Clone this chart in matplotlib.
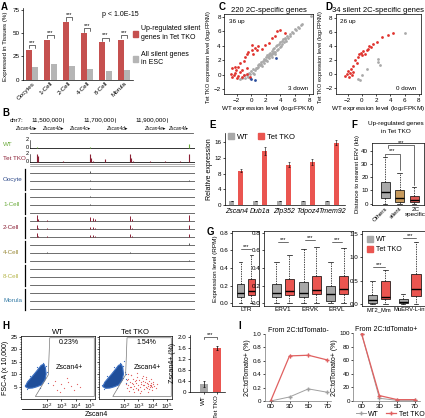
import numpy as np
import matplotlib
matplotlib.use("Agg")
import matplotlib.pyplot as plt
from matplotlib.patches import Polygon, Rectangle

plt.rcParams['font.family'] = ['Liberation Sans', 'DejaVu Sans']
plt.rcParams['font.size'] = 4.5
plt.rcParams['axes.linewidth'] = 0.5
plt.rcParams['xtick.major.width'] = 0.5
plt.rcParams['ytick.major.width'] = 0.5
plt.rcParams['xtick.minor.width'] = 0.4
plt.rcParams['ytick.minor.width'] = 0.4
plt.rcParams['xtick.major.size'] = 1.5
plt.rcParams['ytick.major.size'] = 1.5
plt.rcParams['xtick.minor.size'] = 1.0
plt.rcParams['ytick.minor.size'] = 1.0
plt.rcParams['xtick.major.pad'] = 1
plt.rcParams['ytick.major.pad'] = 1
plt.rcParams['axes.labelpad'] = 1
plt.rcParams['xtick.labelsize'] = 4.5
plt.rcParams['ytick.labelsize'] = 4.5

# ---------------- data ----------------
# A
stages = ["Oocytes", "1-Cell", "2-Cell", "4-Cell", "8-Cell", "Morula"]
up_silent = [32, 43, 62, 50, 40, 43]
all_silent = [13, 17, 15, 11, 9, 10]

# B (positions in kb on chr7)
wt_peak_pos = [11400, 11604, 11985]
wt_peak_h = [0.3, 0.3, 0.9]
tko_peak_pos = [11400, 11405, 11500, 11604, 11609, 11615, 11662, 11758, 11762, 11768, 11835, 11892, 11950, 11985]
tko_peak_h = [2.0, 1.6, 0.3, 2.0, 1.1, 0.3, 0.7, 2.0, 1.0, 0.3, 0.3, 0.3, 0.3, 2.0]
gene_names = ["Zscan4a", "Zscan4b", "Zscan4c", "Zscan4d", "Zscan4e", "Zscan4f"]
gene_label_pos = [11357, 11461, 11565, 11707, 11854, 11942]
embryo_groups = ["Oocyte", "1-Cell", "2-Cell", "4-Cell", "8-Cell", "Morula"]
embryo_peak_pos = [11400, 11405, 11440, 11604, 11615, 11625, 11758, 11765, 11985]
embryo_peak_h = {
    "Oocyte": [[0, 0, 0, 0.3, 0, 0, 0, 0, 0], [0, 0, 0, 0.2, 0, 0, 0, 0, 0.1], [0, 0, 0, 0.2, 0, 0, 0, 0, 0]],
    "1-Cell": [[0, 0, 0, 0.1, 0, 0, 0, 0, 0], [0, 0, 0, 0.1, 0, 0, 0, 0, 0], [0, 0, 0, 0, 0, 0, 0, 0, 0]],
    "2-Cell": [[1.2, 0.4, 0.2, 0.8, 0.5, 0.3, 0.9, 0.4, 1.2], [0.8, 0.2, 0.1, 0.4, 0.3, 0.2, 0.8, 0.2, 0.7], [0.7, 0.2, 0.1, 0.3, 0.3, 0.1, 0.5, 0.2, 0.5]],
    "4-Cell": [[0, 0, 0, 0, 0, 0, 0, 0, 0.3], [0, 0, 0.2, 0, 0, 0, 0.1, 0, 0], [0, 0, 0, 0, 0, 0, 0, 0, 0.2]],
    "8-Cell": [[0, 0, 0, 0, 0, 0, 0, 0, 0], [0, 0, 0, 0, 0, 0, 0, 0, 0], [0, 0, 0, 0, 0, 0, 0, 0, 0]],
    "Morula": [[0, 0, 0, 0, 0, 0, 0, 0, 0], [0, 0, 0, 0, 0, 0, 0, 0, 0], [0, 0, 0, 0, 0, 0, 0, 0, 0]],
}
embryo_colors = ["#2e4a8a", "#6aaa3a", "#8b2035", "#9a8a3a", "#b5b54a", "#3a7fa8"]

# C
c_up_x = [3.6, 4.6, 3.3, 2.4, 1.9, 1.0, 0.5, 0.8, 0.1, -0.4, -0.6, 0.2, -1.05, -1.5, -2.2, -2.7, -2.1, -1.3,
          -0.6, -2.75, -2.4, -1.75, -1.05, -0.6, -2.65, -1.95, -1.3, -0.15, -2.2, -1.5, 1.5, 2.8, 4.0, 0.1, -0.9, -1.8]
c_up_y = [6.0, 5.7, 5.4, 4.4, 4.1, 3.9, 3.7, 3.4, 3.4, 3.2, 2.9, 2.8, 1.9, 1.6, 1.1, 0.9, 0.6, 0.6,
          0.9, 0.1, -0.05, -0.2, -0.05, 0.1, -0.3, -0.5, -0.35, -0.3, 0.3, 0.4, 3.6, 5.0, 6.2, 4.1, 2.5, 1.1]
c_down_x = [3.45, 0.0, 0.55]
c_down_y = [2.25, -0.65, -0.75]
c_ns_x = [-1.5, -1.2, -1.0, -0.8, -0.6, -0.4, -0.3, -0.1, 0.0, 0.2, 0.3, 0.5, 0.6, 0.8, 0.9, 1.0, 1.2, 1.3,
          1.4, 1.6, 1.7, 1.8, 1.9, 2.0, 2.1, 2.2, 2.3, 2.4, 2.5, 2.6, 2.7, 2.8, 2.9, 3.0, 3.1, 3.2, 3.3, 3.4,
          3.5, 3.6, 3.7, 3.8, 3.9, 4.0, 4.1, 4.2, 4.3, 4.4, 4.5, 4.7, 4.8, 5.0, 5.1, 5.3, 5.4, 5.6, 5.8, 6.0,
          6.2, 6.4, 6.6, 6.8, 7.0, 8.3, 2.2, 2.8, 3.3, 1.5, 0.4, -0.2, 3.0, 2.5, 1.1, 4.6]
c_ns_y = [-0.6, -0.4, -0.1, -0.5, 0.0, -0.3, 0.3, 0.1, 0.5, 0.3, 0.8, 0.6, 1.0, 0.9, 1.3, 1.1, 1.4, 1.8,
          1.5, 1.9, 1.6, 2.2, 2.0, 2.5, 2.1, 2.7, 2.4, 2.9, 2.3, 3.0, 2.7, 3.3, 2.8, 3.5, 3.1, 3.7, 3.2, 3.9,
          3.4, 4.1, 3.6, 4.3, 3.8, 4.5, 4.0, 4.7, 4.2, 4.9, 4.5, 5.1, 4.7, 5.4, 5.0, 5.6, 5.3, 5.9, 5.7, 6.3,
          6.1, 6.6, 6.5, 6.9, 7.0, 8.1, 1.9, 2.5, 2.9, 1.2, 0.1, -0.5, 3.0, 2.6, 1.5, 4.9]

# D
d_up_x = [4.4, 3.6, 2.8, 2.05, 1.6, 1.25, 0.9, 0.65, 0.2, -0.15, 0.4, -0.4, -0.6, -1.0, -0.75, -1.2, -1.55,
          -2.0, -1.7, -2.15, -1.45, -1.8, -2.4, -1.2, 1.0, 0.05]
d_up_y = [5.9, 5.6, 5.2, 4.6, 4.3, 3.85, 3.6, 3.4, 3.3, 3.0, 2.9, 2.8, 2.4, 1.95, 1.5, 1.2, 0.75,
          0.4, 0.15, -0.05, -0.2, -0.45, -0.25, 0.3, 3.95, 2.65]
d_ns_x = [6.0, 2.2, 2.2, 2.5, 0.65, -0.05, -0.5, -0.25]
d_ns_y = [5.8, 2.2, 1.7, 1.25, 0.75, -0.2, -0.7, -0.8]

# E
e_genes = ["Zscan4", "Dub1a", "Zfp352", "Tdpoz4", "Tmem92"]
e_wt = [1.0, 1.0, 1.0, 1.0, 1.0]
e_wt_err = [0.1, 0.1, 0.1, 0.1, 0.1]
e_tko = [8.8, 13.8, 10.3, 11.0, 15.9]
e_tko_err = [0.4, 0.9, 0.6, 0.8, 0.6]

# F
f_groups = ["Others", "silent", "2C\nspecific"]
f_q1 = [4.0, 1.5, 1.5]
f_med = [8.5, 4.5, 3.0]
f_q3 = [16.5, 10.0, 5.7]
f_lo = [0.0, 0.0, 0.0]
f_hi = [35.5, 23.0, 12.3]

# G
g_classes = ["LTR", "ERV1", "ERVK", "ERVL", "MT2_Mm", "MuERV-L-int"]
g_wt_q1 = [0.07, 0.07, 0.07, 0.03, 0.03, 0.02]
g_wt_med = [0.12, 0.12, 0.12, 0.11, 0.08, 0.05]
g_wt_q3 = [0.22, 0.22, 0.24, 0.20, 0.20, 0.10]
g_wt_hi = [0.47, 0.47, 0.62, 0.47, 0.50, 0.22]
g_tko_q1 = [0.09, 0.09, 0.10, 0.10, 0.10, 0.18]
g_tko_med = [0.14, 0.14, 0.15, 0.16, 0.15, 0.32]
g_tko_q3 = [0.28, 0.28, 0.31, 0.31, 0.50, 0.65]
g_tko_hi = [0.55, 0.55, 0.64, 0.63, 0.73, 1.32]

# H
flow_blob_lx = [0.5, 0.7, 1.0, 1.3, 1.6, 1.85, 1.95, 1.9, 1.8, 1.6, 1.4, 1.15, 0.9, 0.65]
flow_blob_y = [5.0, 4.3, 4.4, 4.9, 5.6, 7.5, 10.0, 12.5, 14.0, 13.5, 12.0, 10.2, 8.5, 6.8]
gate_lx = [2.2, 2.1, 1.2, 5.3, 5.3]
gate_y = [24.6, 9.7, 1.0, 1.0, 24.6]
wt_blue_lx = [0.45, 0.6, 1.9, 2.0, 1.7, 1.3, 0.8, 2.05, 1.95, 1.5]
wt_blue_y = [5.6, 4.2, 8.5, 11.0, 14.6, 12.8, 9.2, 6.5, 13.2, 4.4]
wt_red_lx = [2.4, 2.7, 3.0, 3.2, 3.5, 3.7, 3.9, 4.1, 2.9, 3.4, 2.6, 4.3]
wt_red_y = [5.5, 3.8, 6.2, 4.5, 7.0, 5.2, 3.5, 6.0, 2.8, 8.5, 7.2, 4.8]
tko_blue_lx = [0.45, 0.6, 1.9, 2.05, 1.7, 1.3, 0.8, 2.1, 1.95, 1.5, 2.15, 2.0, 1.85, 2.1]
tko_blue_y = [5.6, 4.2, 8.5, 11.0, 14.6, 12.8, 9.2, 6.5, 13.2, 4.4, 8.0, 15.2, 12.0, 10.2]
tko_red_lx = [2.1, 2.2, 2.25, 2.3, 2.35, 2.4, 2.45, 2.5, 2.55, 2.6, 2.65, 2.7, 2.75, 2.8, 2.85, 2.9,
              2.95, 3.0, 3.05, 3.1, 3.15, 3.2, 3.25, 3.3, 3.35, 3.4, 3.45, 3.5, 3.55, 3.6, 3.65, 3.7,
              3.75, 3.8, 3.85, 3.9, 3.95, 4.0, 4.1, 4.2, 2.3, 2.5, 2.7, 2.9, 3.1, 3.3, 3.5, 3.7, 3.9,
              2.4, 2.6, 2.8, 3.0, 3.2, 3.4, 3.6, 3.8, 4.05, 2.2, 3.75, 3.85, 3.6, 3.95, 4.3]
tko_red_y = [6.0, 4.5, 8.2, 5.5, 3.2, 7.0, 9.5, 4.8, 6.4, 3.9, 8.0, 5.2, 7.1, 4.3, 6.6, 9.0,
             3.6, 5.8, 7.6, 4.9, 6.2, 3.4, 8.4, 5.6, 7.3, 4.1, 6.8, 5.0, 7.9, 4.4, 6.0, 5.4,
             7.2, 4.7, 6.5, 5.1, 3.8, 6.1, 5.3, 4.6, 10.2, 9.8, 2.8, 10.5, 2.5, 9.2, 8.8, 3.0, 8.1,
             5.0, 6.0, 7.5, 4.0, 7.0, 5.5, 6.3, 5.8, 6.9, 7.8, 4.2, 5.7, 6.6, 4.8, 5.9]
zscan4_pct = [0.28, 1.60]
zscan4_err = [0.10, 0.07]

# I
i_days = ["0D", "3D", "5D", "7D"]
i1_wt = [0.0, 0.06, 0.18, 0.13]
i1_wt_err = [0.0, 0.01, 0.01, 0.01]
i1_tko = [0.0, 0.67, 0.68, 0.61]
i1_tko_err = [0.0, 0.03, 0.03, 0.01]
i2_wt = [99, 4, 1, 1]
i2_tko = [99, 8, 2, 2]

# ---------------- helpers ----------------
W, H = 425, 418
fig = plt.figure(figsize=(W / 100, H / 100), dpi=100)
fig.patch.set_facecolor("white")


def px_ax(x0, y0, x1, y1):
    return fig.add_axes([x0 / W, 1 - y1 / H, (x1 - x0) / W, (y1 - y0) / H])


def ftext(x, y, s, **kw):
    fig.text(x / W, 1 - y / H, s, **kw)


def strip(ax):
    ax.spines["top"].set_visible(False)
    ax.spines["right"].set_visible(False)


red_a, gray_a = "#c5504f", "#b5b5b5"
red_c, gray_c, blue_c = "#e0332e", "#a9a9a9", "#2a4c9c"
red_e, gray_e = "#ea5550", "#a8a8a8"
tan_f = "#c79a5c"

# panel letters
for lab, x, y in [("A", 1, 7), ("B", 2, 113), ("C", 219, 7), ("D", 325, 7), ("E", 209, 125),
                  ("F", 351, 125), ("G", 207, 232), ("H", 2, 326), ("I", 238, 326)]:
    ftext(x, y, lab, fontsize=7, fontweight="bold", va="center")

# ---------------- A ----------------
axA = px_ax(23, 8, 133, 79.5)
xs = np.arange(len(stages))
axA.bar(xs - 0.17, up_silent, 0.32, color=red_a)
axA.bar(xs + 0.17, all_silent, 0.32, color=gray_a)
axA.set_xlim(-0.5, 5.5)
axA.set_ylim(0, 77)
axA.set_yticks([0, 25, 50, 75])
axA.set_xticks(xs)
axA.set_xticklabels(stages, rotation=45, ha="right", rotation_mode="anchor")
axA.tick_params(axis="x", length=0)
axA.set_ylabel("Expressed in Tissues (%)", fontsize=4.4)
axA.yaxis.set_label_coords(-0.14, 0.47)
strip(axA)
for i in xs:
    y0 = up_silent[i] + 1.5
    y1 = up_silent[i] + 5
    axA.plot([i - 0.17, i - 0.17, i + 0.17, i + 0.17], [y0, y1, y1, y1 - 3], color="k", lw=0.4)
    axA.text(i, y1 + 0.3, "***", ha="center", va="bottom", fontsize=4)
ftext(102, 15, "p < 1.0E-15", fontsize=5, va="center")
fig.patches.append(Rectangle((133 / W, 1 - 37 / H), 5 / W, 6 / H, color=red_a, transform=fig.transFigure))
fig.patches.append(Rectangle((133 / W, 1 - 62 / H), 5 / W, 6 / H, color=gray_a, transform=fig.transFigure))
ftext(141, 33, "Up-regulated silent\ngenes in Tet TKO", fontsize=5, va="center", linespacing=1.3)
ftext(141, 58.5, "All silent genes\nin ESC", fontsize=5, va="center", linespacing=1.3)

# ---------------- B ----------------
axB = px_ax(30, 105, 195, 315)
axB.set_xlim(11373, 12008)
axB.set_ylim(315, 105)
axB.axis("off")
ftext(10, 120, "chr7:", fontsize=4.5, va="center")
for pos, lab in [(11500, "11,500,000"), (11700, "11,700,000"), (11900, "11,900,000")]:
    axB.text(pos - 3, 120, lab, ha="right", va="center", fontsize=4.5)
    axB.plot([pos, pos], [118, 122], color="k", lw=0.4)
for pos, name in zip(gene_label_pos, gene_names):
    axB.text(pos, 129, name + "\u25b8", ha="center", va="center", fontsize=3.5, style="italic", clip_on=False)
axB.plot([11373, 12000], [133, 133], color="#555555", lw=0.6)

# WT / TKO tracks
for base, pos, hts, col, lab, lcol in [(148, wt_peak_pos, wt_peak_h, "#6aaa3a", "WT", "#6aaa3a"),
                                       (162, tko_peak_pos, tko_peak_h, "#8b2035", "Tet TKO", "#8b2035")]:
    axB.plot([11373, 12008], [base, base], color="#333333", lw=0.7)
    axB.vlines(pos, base, [base - h * 4 for h in hts], color=col, lw=0.8)
    axB.plot([11373, 11373], [base - 8, base], color="k", lw=0.4)
    axB.text(11368, base - 8, "2", ha="right", va="center", fontsize=4)
    axB.text(11368, base, "0", ha="right", va="center", fontsize=4)
    ftext(3, base - 4, lab, fontsize=4.5, color=lcol, va="center")

axB.plot([11373, 12008], [164, 164], color="#888888", lw=0.5)
axB.plot([11373, 12008], [166, 166], color="#888888", lw=0.5)

for gi, (grp, gcol) in enumerate(zip(embryo_groups, embryo_colors)):
    top = 168 + gi * 24
    for ri in range(3):
        base = top + 5 + ri * 8
        axB.plot([11373, 12008], [base, base], color="#555555", lw=0.6)
        hts = embryo_peak_h[grp][ri]
        pcol = "#8b2035" if grp == "2-Cell" else "#555555"
        axB.vlines(embryo_peak_pos, base, [base - h * 5 for h in hts], color=pcol, lw=0.7)
    fig.lines.append(plt.Line2D([25 / W, 25 / W], [1 - (top + 1) / H, 1 - (top + 22) / H],
                                color="k", lw=0.9, transform=fig.transFigure))
    ftext(3, top + 12, grp, fontsize=4.5, color=gcol, va="center")

# ---------------- C ----------------
axC = px_ax(224.3, 14.3, 312.7, 94.3)
axC.scatter(c_ns_x, c_ns_y, s=4, color=gray_c, lw=0)
axC.scatter(c_up_x, c_up_y, s=4, color=red_c, lw=0)
axC.scatter(c_down_x, c_down_y, s=4, color=blue_c, lw=0)
axC.set_xlim(-3.7, 8.47)
axC.set_ylim(-2.69, 8.33)
axC.set_xticks([-2, 0, 2, 4, 6, 8])
axC.set_yticks([-2, 0, 2, 4, 6, 8])
axC.set_title("220 2C-specific genes", fontsize=5.5, pad=1.5)
axC.text(0.05, 0.94, "36 up", transform=axC.transAxes, fontsize=4.5, va="top")
axC.text(0.95, 0.05, "3 down", transform=axC.transAxes, fontsize=4.5, ha="right")
axC.set_xlabel("WT expression level (log$_2$FPKM)", fontsize=4.6)
axC.set_ylabel("Tet TKO expression level (log$_2$FPKM)", fontsize=4.0)
axC.yaxis.set_label_coords(-0.125, 0.46)

# ---------------- D ----------------
axD = px_ax(336, 14.3, 420.7, 94.3)
axD.scatter(d_ns_x, d_ns_y, s=4, color=gray_c, lw=0)
axD.scatter(d_up_x, d_up_y, s=4, color=red_c, lw=0)
axD.set_xlim(-3.64, 8.24)
axD.set_ylim(-2.9, 8.5)
axD.set_xticks([-2, 0, 2, 4, 6, 8])
axD.set_yticks([-2, 0, 2, 4, 6, 8])
axD.set_title("34 silent 2C-specific genes", fontsize=5.5, pad=1.5)
axD.text(0.05, 0.94, "26 up", transform=axD.transAxes, fontsize=4.5, va="top")
axD.text(0.95, 0.05, "0 down", transform=axD.transAxes, fontsize=4.5, ha="right")
axD.set_xlabel("WT expression level (log$_2$FPKM)", fontsize=4.6)
axD.set_ylabel("Tet TKO expression level (log$_2$FPKM)", fontsize=4.0)
axD.yaxis.set_label_coords(-0.125, 0.46)

# ---------------- E ----------------
axE = px_ax(225, 133, 345, 205)
ex = np.arange(len(e_genes))
axE.bar(ex - 0.19, e_wt, 0.22, yerr=e_wt_err, color=gray_e, error_kw=dict(lw=0.4, capsize=0.8, capthick=0.4))
axE.bar(ex + 0.19, e_tko, 0.22, yerr=e_tko_err, color=red_e, error_kw=dict(lw=0.4, capsize=0.8, capthick=0.4))
axE.set_xlim(-0.47, 4.55)
axE.set_ylim(0, 18.4)
axE.set_yticks([0, 4, 8, 12, 16])
axE.set_xticks(ex)
axE.set_xticklabels(e_genes, style="italic", fontsize=5)
axE.tick_params(axis="x", length=0, pad=2)
axE.set_ylabel("Relative expression", fontsize=5)
strip(axE)
axE.legend(handles=[Rectangle((0, 0), 1, 1, color=gray_e), Rectangle((0, 0), 1, 1, color=red_e)],
           labels=["WT", "Tet TKO"], ncol=2, loc="upper left", bbox_to_anchor=(0.0, 1.04), frameon=False,
           fontsize=5.5, handlelength=0.8, handleheight=0.8, handletextpad=0.4, columnspacing=1.2,
           borderaxespad=0)

# ---------------- F ----------------
axF = px_ax(371.7, 142.7, 424.3, 205)
f_stats = [dict(med=m, q1=a, q3=b, whislo=lo, whishi=hi, label=g)
           for m, a, b, lo, hi, g in zip(f_med, f_q1, f_q3, f_lo, f_hi, f_groups)]
bpF = axF.bxp(f_stats, positions=[1, 2, 3], widths=0.62, showfliers=False, patch_artist=True,
              boxprops=dict(lw=0.5), whiskerprops=dict(lw=0.5, ls=(0, (2, 1.5))),
              capprops=dict(lw=0.5), medianprops=dict(color="k", lw=1.0))
for patch, col in zip(bpF["boxes"], [gray_c, tan_f, "#dd5a55"]):
    patch.set_facecolor(col)
for cap in bpF["caps"]:
    mid = np.mean(cap.get_xdata())
    cap.set_xdata([mid - 0.15, mid + 0.15])
axF.set_xlim(0.08, 3.71)
axF.set_ylim(-1.1, 46)
axF.set_yticks([0, 10, 20, 30, 40])
axF.set_xticks([1, 2, 3])
axF.set_xticklabels(["Others", "silent", ""], rotation=45, ha="right", rotation_mode="anchor", fontsize=4.5)
axF.text(3.1, -2.5, "2C\nspecific", ha="center", va="top", fontsize=4.5, linespacing=1.1)
axF.tick_params(axis="x", length=0)
axF.set_ylabel("Distance to nearest ERV (kb)", fontsize=4.3)
axF.plot([1, 1, 2, 2], [36.3, 37.5, 37.5, 25], color="k", lw=0.4)
axF.text(1.5, 37.8, "***", ha="center", va="bottom", fontsize=4)
axF.plot([1.2, 1.2, 3, 3], [42, 44.3, 44.3, 14], color="k", lw=0.4)
axF.text(2.1, 44.5, "***", ha="center", va="bottom", fontsize=4)
ftext(396, 124, "Up-regulated genes", fontsize=4.6, ha="center", va="center")
ftext(396, 131.5, "in Tet TKO", fontsize=4.6, ha="center", va="center")

# ---------------- G ----------------
def g_stats(i):
    wt = dict(med=g_wt_med[i], q1=g_wt_q1[i], q3=g_wt_q3[i], whislo=0.0, whishi=g_wt_hi[i])
    tko = dict(med=g_tko_med[i], q1=g_tko_q1[i], q3=g_tko_q3[i], whislo=0.0, whishi=g_tko_hi[i])
    return wt, tko


def g_draw(ax, idx, centers, off, width, lab_size=4.6):
    stats, pos, cols = [], [], []
    for i, c in zip(idx, centers):
        wt, tko = g_stats(i)
        stats += [wt, tko]
        pos += [c - off, c + off]
        cols += [gray_e, red_e]
    bp = ax.bxp(stats, positions=pos, widths=width, showfliers=False, patch_artist=True,
                boxprops=dict(lw=0.5), whiskerprops=dict(lw=0.5, ls=(0, (2, 1.5))),
                capprops=dict(lw=0.5), medianprops=dict(color="k", lw=1.0))
    for patch, col in zip(bp["boxes"], cols):
        patch.set_facecolor(col)
    for cap in bp["caps"]:
        mid = np.mean(cap.get_xdata())
        cap.set_xdata([mid - width * 0.25, mid + width * 0.25])
    ax.set_xticks(centers)
    ax.set_xticklabels([g_classes[i] for i in idx], fontsize=lab_size)
    ax.tick_params(axis="x", length=0)


axG1 = px_ax(231.7, 231, 259, 305.7)
g_draw(axG1, [0], [1.0], 0.21, 0.3)
axG1.set_xlim(0.45, 1.5)
axG1.set_ylim(-0.027, 0.82)
axG1.set_yticks([0.0, 0.2, 0.4, 0.6, 0.8])
axG1.set_ylabel("Expression level (RPM)", fontsize=4.6)
axG2 = px_ax(264, 231, 353.3, 305.7)
g_draw(axG2, [1, 2, 3], [1, 2, 3], 0.24, 0.32)
axG2.set_xlim(0.3, 3.6)
axG2.set_ylim(-0.027, 0.82)
axG2.set_yticks([0.0, 0.2, 0.4, 0.6, 0.8])
axG3 = px_ax(361.7, 231, 425, 305.7)
g_draw(axG3, [4, 5], [1, 2], 0.21, 0.3, lab_size=4.2)
axG3.set_xlim(0.44, 2.5)
axG3.set_ylim(-0.035, 1.56)
axG3.set_yticks([0.0, 0.5, 1.0, 1.5])
axG3.set_yticklabels(["0.0", "0.5", "1.0", "1.5"])
for ax, pairs in [(axG1, [(1.0, 0.62)]), (axG2, [(1, 0.69), (2, 0.72), (3, 0.69)]),
                  (axG3, [(1, 0.80), (2, 1.42)])]:
    for c, y in pairs:
        ax.plot([c - 0.2, c + 0.2], [y, y], color="k", lw=0.4)
        ax.text(c, y, "***", ha="center", va="bottom", fontsize=4)
axG3.legend(handles=[Rectangle((0, 0), 1, 1, color=gray_e), Rectangle((0, 0), 1, 1, color=red_e)],
            labels=["WT", "Tet TKO"], loc="upper left", frameon=False, fontsize=5,
            handlelength=0.9, handleheight=0.9, handletextpad=0.4, borderaxespad=0.3, labelspacing=0.4)

# ---------------- H ----------------
def flow_panel(ax, blue_lx, blue_y, red_lx, red_y, title, pct, show_y):
    ax.set_xscale("log")
    blob = Polygon(np.column_stack([10 ** np.array(flow_blob_lx), flow_blob_y]), closed=True,
                   facecolor="#1f4e9a", edgecolor="#3a6ec0", lw=0.8)
    ax.add_patch(blob)
    ax.scatter(10 ** np.array(blue_lx), blue_y, s=0.8, color="#3a6ec0", lw=0)
    ax.scatter(10 ** np.array(red_lx), red_y, s=0.8, color="#e06060", lw=0)
    ax.add_patch(Polygon(np.column_stack([10 ** np.array(gate_lx), gate_y]), closed=True,
                         fill=False, edgecolor="#777777", lw=0.5))
    ax.set_xlim(10 ** 0.2, 10 ** 5.35)
    ax.set_ylim(0, 25.3)
    ax.set_xticks([1e2, 1e3, 1e4, 1e5])
    ax.set_yticks([5, 10, 15, 20, 25])
    ax.set_yticks(np.arange(1, 26), minor=True)
    ax.tick_params(axis="x", which="both", labelsize=4.5, pad=0.5)
    if not show_y:
        ax.set_yticklabels([])
    ax.set_title(title, fontsize=5.5, pad=1.5)
    ax.text(10 ** 3.55, 22.5, pct, ha="center", va="center", fontsize=5)
    ax.text(10 ** 3.6, 12.5, "Zscan4+", ha="center", va="center", fontsize=5)


axH1 = px_ax(21, 336, 95, 399)
flow_panel(axH1, wt_blue_lx, wt_blue_y, wt_red_lx, wt_red_y, "WT", "0.23%", True)
axH1.set_ylabel("FSC-A (x 10,000)", fontsize=5)
axH2 = px_ax(98.5, 336, 172, 399)
flow_panel(axH2, tko_blue_lx, tko_blue_y, tko_red_lx, tko_red_y, "Tet TKO", "1.54%", False)
fig.lines.append(plt.Line2D([22 / W, 172 / W], [1 - 409 / H, 1 - 409 / H], color="k", lw=0.6,
                            transform=fig.transFigure))
ftext(96, 414.5, "Zscan4", fontsize=5, ha="center", va="center")

axH3 = px_ax(189.5, 335, 225, 391.7)
axH3.bar([0, 1], zscan4_pct, 0.6, yerr=zscan4_err, color=[gray_e, red_e],
         error_kw=dict(lw=0.5, capsize=0.8, capthick=0.5))
axH3.set_xlim(-1.05, 1.6)
axH3.set_ylim(0, 2.06)
axH3.set_yticks([0, 0.4, 0.8, 1.2, 1.6, 2.0])
axH3.set_yticklabels(["0", "0.4", "0.8", "1.2", "1.6", "2.0"])
axH3.set_xticks([0, 1])
axH3.set_xticklabels(["WT", "Tet TKO"], rotation=90)
axH3.set_ylabel("Zscan4+ (%)", fontsize=5)
strip(axH3)
axH3.plot([0, 0, 1, 1], [1.9, 1.98, 1.98, 1.9], color="k", lw=0.4)
axH3.text(0.5, 1.98, "***", ha="center", va="bottom", fontsize=4)

# ---------------- I ----------------
ix = np.arange(len(i_days))
axI1 = px_ax(265, 333.7, 331, 401)
axI1.errorbar(ix, i1_wt, yerr=i1_wt_err, color="#a0a0a0", marker="+", ms=2.5, lw=0.7, elinewidth=0.4)
axI1.errorbar(ix, i1_tko, yerr=i1_tko_err, color="#e06060", marker="+", ms=2.5, lw=0.9, elinewidth=0.4)
axI1.set_xlim(-0.3, 3.2)
axI1.set_ylim(0, 1.0)
axI1.set_yticks([0, 0.2, 0.4, 0.6, 0.8, 1.0])
axI1.set_yticklabels(["0", "0.2", "0.4", "0.6", "0.8", "1.0"])
axI1.set_xticks(ix)
axI1.set_xticklabels(i_days)
axI1.set_ylabel("2C:tdTomato+ (%)", fontsize=5)
axI1.set_title("From 2C:tdTomato-", fontsize=5, pad=1)
strip(axI1)
axI1.spines["bottom"].set_color("#777777")
axI1.spines["left"].set_color("#777777")

axI2 = px_ax(353.3, 333.3, 420, 401)
l1, = axI2.plot(ix, i2_wt, color="#a0a0a0", marker="+", ms=2.5, lw=0.7)
l2, = axI2.plot(ix, i2_tko, color="#e06060", marker="+", ms=2.5, lw=0.9)
axI2.set_xlim(-0.47, 3.28)
axI2.set_ylim(0, 100)
axI2.set_yticks([0, 20, 40, 60, 80, 100])
axI2.set_xticks(ix)
axI2.set_xticklabels(i_days)
axI2.set_ylabel("2C:tdTomato+ (%)", fontsize=5)
axI2.set_title("From 2C:tdTomato+", fontsize=5, pad=1)
strip(axI2)
axI2.spines["bottom"].set_color("#777777")
axI2.spines["left"].set_color("#777777")
fig.legend([l1, l2], ["WT", "Tet TKO"], loc="center", bbox_to_anchor=(390 / W, 1 - 414 / H), ncol=2,
           frameon=False, fontsize=5, handlelength=1.5, columnspacing=1.0, handletextpad=0.3)

fig.savefig("out.png", dpi=100)
